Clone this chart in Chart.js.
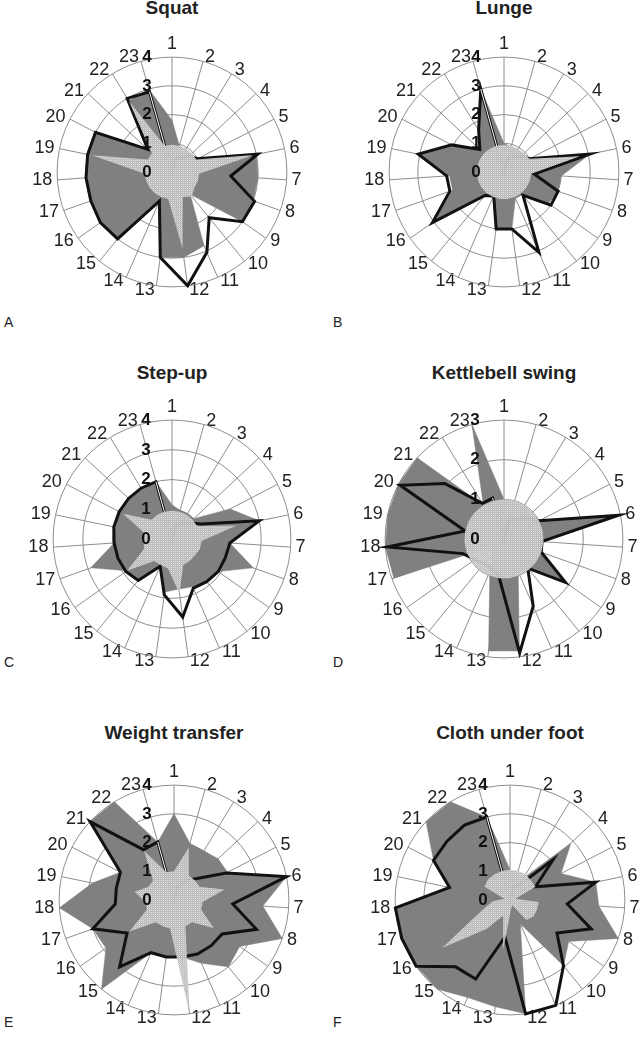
<!DOCTYPE html>
<html>
<head>
<meta charset="utf-8">
<script src="https://cdn.jsdelivr.net/npm/chart.js@4.4.1/dist/chart.umd.min.js"></script>
<style>
  body { margin: 0; background: #fff; width: 642px; height: 1054px; position: relative; overflow: hidden;
         font-family: "Liberation Sans", Arial, sans-serif; }
  .title { position: absolute; font-weight: bold; font-size: 19px; line-height: 20px; color: #222;
           transform: translateX(-50%); white-space: nowrap; }
  .letter { position: absolute; font-size: 14px; line-height: 16px; color: #222; }
  canvas { position: absolute; }
</style>
</head>
<body>
<script>
// category axes 1..23
const categories = ['1','2','3','4','5','6','7','8','9','10','11','12','13','14','15','16','17','18','19','20','21','22','23'];
const titles = ['Squat', 'Lunge', 'Step-up', 'Kettlebell swing', 'Weight transfer', 'Cloth under foot'];
const letters = ['A', 'B', 'C', 'D', 'E', 'F'];
const scaleMax = [4, 4, 4, 3, 4, 4];

// dark grey filled series
const squatArea  = [1.8, 0.95, 0.9, 0.9, 1.0, 3.0, 3.0, 3.0, 3.0, 1.0, 2.8, 3.0, 3.0, 1.2, 3.0, 3.0, 3.0, 3.0, 3.0, 3.0, 1.15, 2.9, 3.0];
const lungeArea  = [1.0, 0.9, 0.9, 0.9, 1.0, 3.05, 2.0, 2.0, 1.9, 1.0, 1.0, 2.0, 2.0, 0.9, 1.0, 2.95, 1.9, 1.9, 3.0, 2.0, 1.15, 1.7, 3.0];
const stepArea   = [1.15, 1.0, 1.0, 1.0, 2.2, 3.0, 1.95, 2.9, 1.9, 1.85, 1.75, 1.7, 1.8, 1.0, 1.8, 1.85, 2.9, 1.95, 1.95, 2.0, 2.0, 2.0, 2.0];
const kettleArea = [1.0, 0.95, 0.95, 0.95, 1.0, 2.95, 1.0, 1.0, 1.9, 0.95, 0.9, 2.85, 2.85, 0.9, 0.5, 0.3, 2.95, 3.0, 3.0, 3.0, 3.0, 1.0, 3.0];
const weightArea = [3.0, 2.05, 2.0, 2.1, 2.1, 4.0, 3.1, 4.0, 2.8, 3.0, 2.4, 2.0, 2.0, 2.0, 4.0, 2.9, 3.0, 4.0, 2.9, 2.1, 4.0, 4.0, 2.1];
const clothArea  = [1.05, 0.9, 0.9, 2.9, 2.0, 3.05, 3.1, 4.0, 2.5, 2.95, 0.9, 4.0, 3.75, 3.7, 4.0, 4.0, 4.0, 4.0, 2.15, 3.0, 4.0, 4.0, 3.0];

// thick black line series
const squatLine  = [0, 0.5, 0.6, 0.8, 1.0, 3.05, 2.05, 3.05, 3.0, 2.05, 3.05, 4.0, 3.0, 1.1, 3.0, 3.05, 3.0, 3.0, 3.0, 3.0, 1.15, 3.0, 2.9];
const lungeLine  = [0, 0.5, 0.6, 0.8, 1.0, 3.05, 1.05, 2.0, 2.0, 1.05, 3.05, 2.0, 2.0, 0.9, 1.05, 3.05, 2.0, 2.0, 3.05, 2.05, 1.15, 1.7, 3.0];
const stepLine   = [0, 0.5, 0.6, 0.8, 1.1, 3.0, 1.95, 1.9, 1.9, 1.85, 1.8, 2.65, 1.9, 1.0, 1.8, 1.9, 1.93, 1.95, 2.0, 2.0, 2.0, 2.0, 2.0];
const kettleLine = [0, 0.5, 0.6, 0.8, 1.0, 2.95, 0.95, 1.0, 1.9, 0.95, 1.85, 2.9, 0.95, 0.8, 0.8, 0.9, 1.1, 2.95, 1.0, 2.95, 2.05, 1.05, 1.07];
const weightLine = [0, 0.5, 0.8, 1.1, 2.05, 4.0, 2.05, 3.05, 2.05, 2.05, 2.05, 2.0, 2.0, 2.0, 3.0, 2.0, 3.0, 2.05, 2.05, 2.1, 4.0, 2.05, 2.1];
const clothLine  = [0, 0.5, 0.6, 2.05, 1.0, 3.05, 2.0, 3.0, 2.0, 2.95, 4.0, 4.0, 1.3, 3.0, 3.0, 4.0, 4.0, 4.0, 2.15, 3.0, 3.0, 3.05, 3.0];

// light dotted series
const squatDots  = [0.95, 0.95, 0.95, 0.95, 0.95, 2.9, 0.95, 0.95, 0.95, 1.1, 0.95, 2.7, 0.95, 0.95, 0.95, 0.95, 0.95, 0.95, 2.85, 0.95, 0.95, 2.9, 0.95];
const lungeDots  = [0.95, 0.95, 0.95, 0.95, 1.0, 2.7, 0.95, 0.95, 0.95, 0.95, 0.95, 0.95, 0.95, 0.95, 0.95, 0.95, 0.95, 0.95, 0.95, 0.95, 0.95, 0.95, 0.95];
const stepDots   = [0.95, 0.95, 0.95, 0.95, 0.95, 2.2, 1.0, 1.0, 0.95, 0.95, 0.95, 1.85, 1.0, 0.95, 0.95, 1.85, 1.0, 0.95, 0.95, 1.85, 0.95, 0.95, 0.95];
const kettleDots = [1.0, 1.0, 1.0, 1.0, 1.0, 1.0, 1.0, 1.0, 1.0, 1.0, 1.0, 1.0, 1.0, 1.0, 1.0, 1.0, 1.0, 1.0, 1.0, 1.0, 1.0, 1.0, 1.0];
const weightDots = [1.0, 1.9, 1.0, 1.0, 1.0, 1.8, 1.0, 1.0, 1.7, 1.0, 1.0, 4.0, 1.0, 1.0, 1.0, 1.9, 1.0, 1.0, 1.4, 1.0, 1.0, 2.0, 1.0];
const clothDots  = [1.05, 1.05, 1.05, 1.0, 1.0, 0.2, 1.0, 1.0, 1.0, 0.9, 0.2, 0.3, 1.75, 0.6, 1.3, 2.9, 1.0, 0.6, 0.2, 1.0, 1.05, 1.05, 1.05];

const areaSeries = [squatArea, lungeArea, stepArea, kettleArea, weightArea, clothArea];
const lineSeries = [squatLine, lungeLine, stepLine, kettleLine, weightLine, clothLine];
const dotSeries  = [squatDots, lungeDots, stepDots, kettleDots, weightDots, clothDots];

// where each panel sits on the page
const layout = [
  { cx: 172, cy: 172, r: 115, ty: 8,   lx: 4,   ly: 322,  dx: -25 },
  { cx: 504, cy: 172, r: 115, ty: 8,   lx: 333, ly: 322,  dx: -28 },
  { cx: 172, cy: 539, r: 119, ty: 373, lx: 4,   ly: 662,  dx: -26 },
  { cx: 504, cy: 539, r: 119, ty: 373, lx: 333, ly: 662,  dx: -29 },
  { cx: 174, cy: 900, r: 115, ty: 733, lx: 4,   ly: 1022, dx: -27 },
  { cx: 510, cy: 900, r: 115, ty: 733, lx: 333, ly: 1022, dx: -27 }
];

const FONT = '"Liberation Sans", Arial, sans-serif';
const LABEL_SIZE = 18;

function dotPattern() {
  const c = document.createElement('canvas');
  c.width = 2; c.height = 2;
  const g = c.getContext('2d');
  g.fillStyle = 'rgba(206,206,206,0.86)'; g.fillRect(0, 0, 2, 2);
  g.fillStyle = 'rgba(184,184,184,0.86)'; g.fillRect(1, 0, 1, 1); g.fillRect(0, 1, 1, 1);
  g.fillStyle = 'rgba(226,226,226,0.86)'; g.fillRect(1, 1, 1, 1);
  return g.createPattern(c, 'repeat');
}

// Excel puts the scale numbers a little left of the first spoke
const tickShift = {
  id: 'tickShift',
  beforeDraw(chart, args, opts) {
    const s = chart.scales.r;
    if (s._shifted) return;
    const orig = s.drawLabels;
    s.drawLabels = function () {
      this.ctx.save();
      this.ctx.translate(opts.dx || 0, 0);
      orig.apply(this, arguments);
      this.ctx.restore();
    };
    s._shifted = true;
  }
};

// category labels hang off the spoke end like Excel does: left/right aligned, vertically centred
const excelLabels = {
  id: 'excelLabels',
  beforeDraw(chart, args, opts) {
    const s = chart.scales.r;
    const items = s._pointLabelItems;
    if (!items) return;
    const lh = LABEL_SIZE * 1.2;
    items.forEach((it, i) => {
      const p = s.getPointPosition(i, s.drawingArea + opts.pad);
      const off = p.x - s.xCenter;
      let align = 'center';
      if (off > 0.5) align = 'left';
      else if (off < -0.5) align = 'right';
      const y = i === 0 ? p.y - 9.5 : p.y;
      it.x = p.x + (align === 'left' ? 1 : align === 'right' ? -1 : 0);
      it.y = y - lh / 2;
      it.textAlign = align;
    });
  }
};

titles.forEach((t, i) => {
  const p = layout[i];
  const h = document.createElement('div');
  h.className = 'title';
  h.textContent = t;
  h.style.left = p.cx + 'px';
  h.style.top = (p.ty - 10) + 'px';
  document.body.appendChild(h);

  const l = document.createElement('div');
  l.className = 'letter';
  l.textContent = letters[i];
  l.style.left = p.lx + 'px';
  l.style.top = (p.ly - 8) + 'px';
  document.body.appendChild(l);

  const canvas = document.createElement('canvas');
  canvas.width = 300; canvas.height = 300;
  document.body.appendChild(canvas);

  const line = lineSeries[i];
  const closing = line.map((v, k) => (k === 0 || k === line.length - 1) ? v : null);

  const chart = new Chart(canvas, {
    type: 'radar',
    data: {
      labels: categories,
      datasets: [
        { data: dotSeries[i], backgroundColor: dotPattern(), borderWidth: 0, fill: true, pointRadius: 0 },
        { data: closing, borderColor: '#ffffff', borderWidth: 1, fill: false, pointRadius: 0, spanGaps: false },
        { data: line, borderColor: '#111111', borderWidth: 3, fill: false, pointRadius: 0, borderJoinStyle: 'miter' },
        { data: areaSeries[i], backgroundColor: '#808080', borderColor: '#808080', borderWidth: 0.5, fill: true, pointRadius: 0 }
      ]
    },
    options: {
      responsive: false,
      maintainAspectRatio: false,
      animation: false,
      events: [],
      devicePixelRatio: 1,
      elements: { line: { tension: 0 } },
      plugins: {
        legend: { display: false },
        tooltip: { enabled: false },
        tickShift: { dx: p.dx },
        excelLabels: { pad: 4 }
      },
      scales: {
        r: {
          min: -0.0005,
          max: scaleMax[i],
          ticks: {
            stepSize: 1,
            callback: v => Math.abs(v - Math.round(v)) < 0.01 ? String(Math.round(v)) : '',
            font: { family: FONT, size: 17, weight: 'bold' },
            color: '#111',
            showLabelBackdrop: false,
            backdropPadding: 0,
            z: 1
          },
          grid: { circular: true, color: '#8e8e8e', lineWidth: 1 },
          angleLines: { color: '#8e8e8e', lineWidth: 1 },
          pointLabels: { font: { family: FONT, size: LABEL_SIZE }, color: '#222', padding: 4 }
        }
      }
    },
    plugins: [tickShift, excelLabels]
  });

  // size the canvas so the outer ring gets the wanted radius, then centre it
  const size = Math.round(chart.width + 2 * (p.r - chart.scales.r.drawingArea));
  chart.resize(size, size);
  const s = chart.scales.r;
  canvas.style.left = (p.cx - s.xCenter) + 'px';
  canvas.style.top = (p.cy - s.yCenter) + 'px';
});
</script>
</body>
</html>
